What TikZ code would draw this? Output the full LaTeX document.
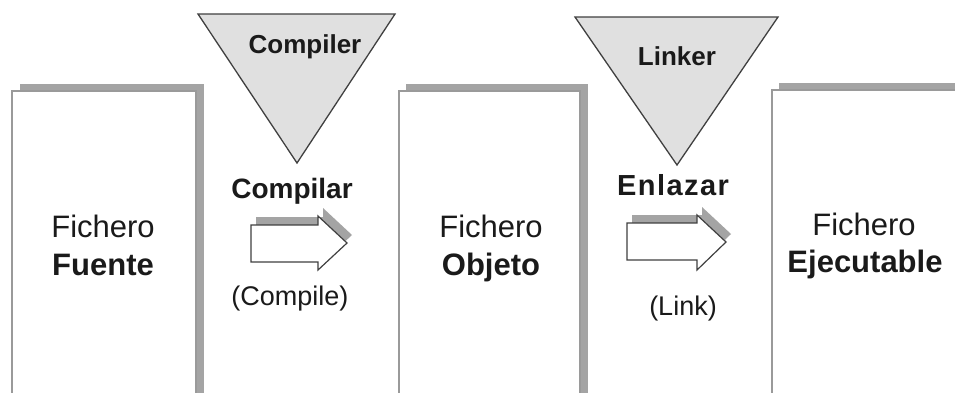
\documentclass[tikz,border=0pt]{standalone}
\usepackage{fontspec}
\setmainfont{Liberation Sans}
\definecolor{shadec}{HTML}{A4A4A4}
\definecolor{boxline}{HTML}{9A9A9A}
\definecolor{trifill}{HTML}{E0E0E0}
\definecolor{darkline}{HTML}{404040}
\definecolor{txt}{HTML}{1A1A1A}
\begin{document}
\begin{tikzpicture}[x=1pt,y=-1pt,
  shadowfill/.style={fill=shadec},
  filebox/.style={fill=white,draw=boxline,line width=1.5pt},
  tri/.style={fill=trifill,draw=darkline,line width=1.3pt,line join=miter},
  blockarrow/.style={fill=white,draw=darkline,line width=1.2pt,line join=miter},
  regtxt/.style={font=\fontsize{31}{36}\selectfont,text=txt,inner sep=0pt,anchor=base},
  boldtxt/.style={font=\fontsize{31}{36}\selectfont\bfseries,text=txt,inner sep=0pt,anchor=base},
  tritxt/.style={font=\fontsize{26}{30}\selectfont\bfseries,text=txt,inner sep=0pt,anchor=base},
  actxt/.style={font=\fontsize{28}{32}\selectfont\bfseries,text=txt,inner sep=0pt,anchor=base},
  entxt/.style={font=\fontsize{29}{32}\selectfont\bfseries\addfontfeatures{LetterSpace=5},text=txt,inner sep=0pt,anchor=base},
  partxt/.style={font=\fontsize{27}{32}\selectfont,text=txt,inner sep=0pt,anchor=base},
]
\useasboundingbox (0,0) rectangle (955,392);
\clip (0,0) rectangle (955,392);
\fill[white] (0,0) rectangle (955,392);

% ---- file boxes ----
\fill[shadowfill] (20,84) rectangle (204,400);
\draw[filebox] (12,91) rectangle (196,400);
\fill[shadowfill] (406,84) rectangle (588,400);
\draw[filebox] (399,91) rectangle (580,400);
\fill[shadowfill] (779,83) rectangle (970,400);
\draw[filebox] (772,90) rectangle (962,400);

\node[regtxt]  (f1a) at (103,237) {Fichero};
\node[boldtxt] (f1b) at (103,275) {Fuente};
\node[regtxt]  (f2a) at (491,237) {Fichero};
\node[boldtxt] (f2b) at (491,275) {Objeto};
\node[regtxt]  (f3a) at (864,235) {Fichero};
\node[boldtxt] (f3b) at (865,272) {Ejecutable};

% ---- tools (triangles) ----
\draw[tri] (198,14) -- (395,14) -- (297,163) -- cycle;
\node[tritxt] (t1) at (305,53) {Compiler};
\draw[tri] (575,17) -- (778,17) -- (677,165) -- cycle;
\node[tritxt] (t2) at (677,65) {Linker};

% ---- actions ----
\node[actxt] (a1) at (292,198) {Compilar};
\node[entxt] (a2) at (673,195) {Enlazar};

% block arrow 1
\fill[shadowfill,xshift=5pt,yshift=8pt] (251,225) -- (318,225) -- (318,216) -- (347,243) -- (318,270) -- (318,262) -- (251,262) -- cycle;
\draw[blockarrow] (251,225) -- (318,225) -- (318,216) -- (347,243) -- (318,270) -- (318,262) -- (251,262) -- cycle;
% block arrow 2
\fill[shadowfill,xshift=5pt,yshift=8pt] (627,223) -- (697,223) -- (697,215) -- (726,242) -- (697,270) -- (697,260) -- (627,260) -- cycle;
\draw[blockarrow] (627,223) -- (697,223) -- (697,215) -- (726,242) -- (697,270) -- (697,260) -- (627,260) -- cycle;

\node[partxt] (p1) at (290,305) {(Compile)};
\node[partxt] (p2) at (683,315) {(Link)};
\end{tikzpicture}
\end{document}
